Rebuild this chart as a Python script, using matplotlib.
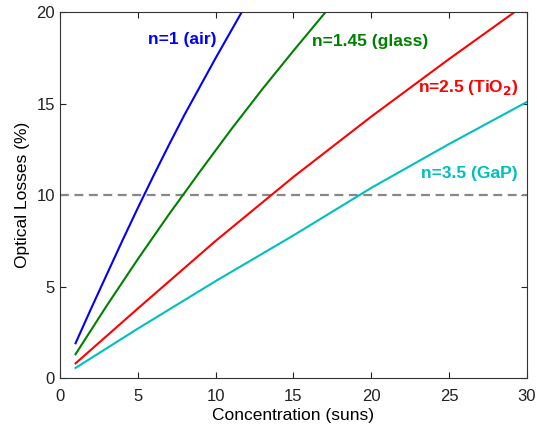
import matplotlib
matplotlib.use("Agg")
import matplotlib.pyplot as plt

plt.rcParams["font.family"] = ["Liberation Sans", "DejaVu Sans"]

# =========================
# data
# =========================
x_air = [1, 2, 3, 4, 5, 6, 7, 8, 9, 10, 11, 12]
y_air = [1.9, 3.8, 5.65, 7.5, 9.3, 11.05, 12.75, 14.4, 15.95, 17.5, 19.0, 20.5]

x_glass = [1, 3, 5, 7, 9, 11, 13, 15, 17, 18]
y_glass = [1.3, 3.95, 6.5, 8.95, 11.3, 13.6, 15.8, 17.9, 19.95, 20.97]

x_tio2 = [1, 5, 10, 15, 20, 25, 30]
y_tio2 = [0.8, 3.8, 7.5, 11.0, 14.3, 17.45, 20.5]

x_gap = [1, 5, 10, 15, 20, 25, 30]
y_gap = [0.55, 2.7, 5.3, 7.8, 10.4, 12.8, 15.1]

threshold = 10

xticks = [0, 5, 10, 15, 20, 25, 30]
yticks = [0, 5, 10, 15, 20]

# =========================
# plot
# =========================
fig = plt.figure(figsize=(5.37, 4.29), dpi=100)
ax = fig.add_axes([0.1117, 0.1189, 0.8697, 0.8524])

ax.axhline(threshold, color="#888888", lw=1.6, ls=(0, (4, 2.5)))

ax.plot(x_air, y_air, color="#0000ff", lw=1.5)
ax.plot(x_glass, y_glass, color="#008000", lw=1.5)
ax.plot(x_tio2, y_tio2, color="#ff0000", lw=1.5)
ax.plot(x_gap, y_gap, color="#00bfbf", lw=1.5)

lbl = dict(fontsize=12.5, fontweight="bold", va="center", ha="left")
ax.text(5.65, 18.5, "n=1 (air)", color="#0000ff", **lbl)
ax.text(16.2, 18.4, "n=1.45 (glass)", color="#008000", **lbl)
ax.text(23.0, 15.9, "n=2.5 (TiO$_{\\mathbf{2}}$)", color="#ff0000", **lbl)
ax.text(23.2, 11.2, "n=3.5 (GaP)", color="#00bfbf", **lbl)

ax.set_xlim(0, 30)
ax.set_ylim(0, 20)
ax.set_xticks(xticks)
ax.set_yticks(yticks)
ax.tick_params(direction="in", top=True, right=True, labelsize=12,
               length=4, width=0.8, colors="#222222")
ax.tick_params(axis="x", pad=8)
for s in ax.spines.values():
    s.set_color("#333333")
    s.set_linewidth(0.8)

ax.set_xlabel("Concentration (suns)", fontsize=12.5, labelpad=3)
ax.set_ylabel("Optical Losses (%)", fontsize=12.5, labelpad=5)

fig.savefig("out.png", dpi=100)
